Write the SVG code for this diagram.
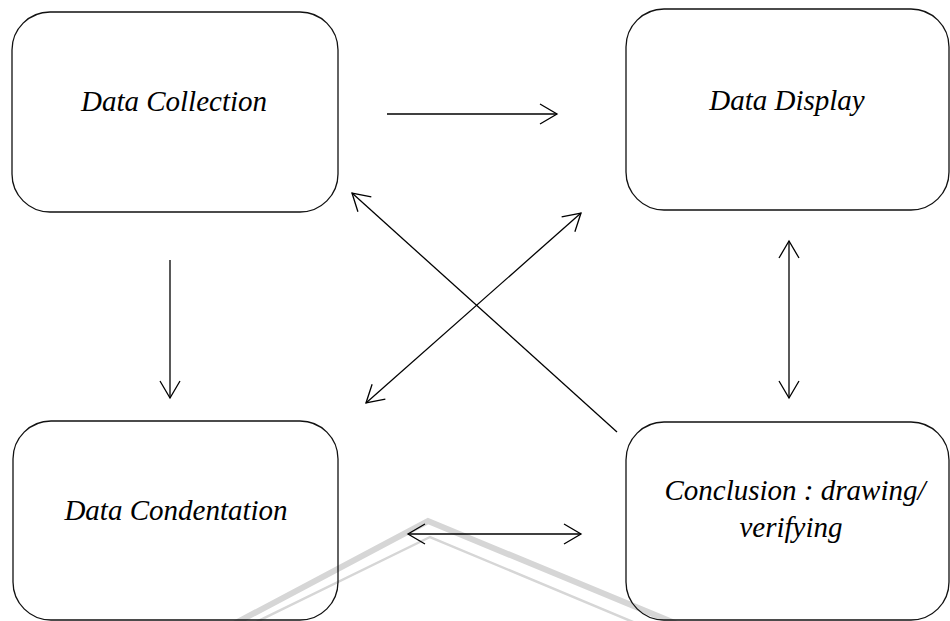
<svg xmlns="http://www.w3.org/2000/svg" width="950" height="621" viewBox="0 0 950 621">
<style>
.box{fill:none;stroke:#111;stroke-width:1.3}
.lbl{font-family:"Liberation Serif","Times New Roman",serif;font-style:italic;font-size:29px;fill:#000;text-anchor:middle}
.con{stroke:#000;stroke-width:1.3;fill:none}
.wm{stroke:#d6d6d6;fill:none;stroke-linejoin:miter}
</style>
<defs>
<marker id="ah" markerUnits="userSpaceOnUse" markerWidth="24" markerHeight="26" viewBox="0 0 24 26" refX="20" refY="12" orient="auto-start-reverse" overflow="visible">
<path d="M3,2 L20,12 L3,22" fill="none" stroke="#000" stroke-width="1.3"/>
</marker>
</defs>
<rect width="950" height="621" fill="#fff"/>
<g id="watermark">
<polyline class="wm" stroke-width="6" points="230,626 428,521 740,650"/>
<polyline class="wm" stroke-width="2.5" points="250,625 430,537 700,650"/>
</g>
<g id="connectors">
<line class="con" x1="387" y1="114" x2="557" y2="114" marker-end="url(#ah)"/>
<line class="con" x1="170" y1="260" x2="170" y2="398" marker-end="url(#ah)"/>
<line class="con" x1="789" y1="241" x2="789" y2="398" marker-start="url(#ah)" marker-end="url(#ah)"/>
<line class="con" x1="408" y1="534" x2="581" y2="534" marker-start="url(#ah)" marker-end="url(#ah)"/>
<line class="con" x1="617" y1="432" x2="352" y2="193" marker-end="url(#ah)"/>
<line class="con" x1="366" y1="403" x2="581" y2="213" marker-start="url(#ah)" marker-end="url(#ah)"/>
</g>
<g id="data-collection">
<rect class="box" x="12" y="12" width="326" height="200" rx="38" ry="38"/>
<text class="lbl" x="174" y="111">Data Collection</text>
</g>
<g id="data-display">
<rect class="box" x="626" y="9" width="323" height="201" rx="38" ry="38"/>
<text class="lbl" x="787" y="110">Data Display</text>
</g>
<g id="data-condentation">
<rect class="box" x="13" y="421" width="325" height="199" rx="38" ry="38"/>
<text class="lbl" x="176" y="520">Data Condentation</text>
</g>
<g id="conclusion">
<rect class="box" x="626" y="422" width="323" height="198" rx="38" ry="38"/>
<text class="lbl" x="795" y="500">Conclusion : drawing/</text>
<text class="lbl" x="791" y="537">verifying</text>
</g>
</svg>
